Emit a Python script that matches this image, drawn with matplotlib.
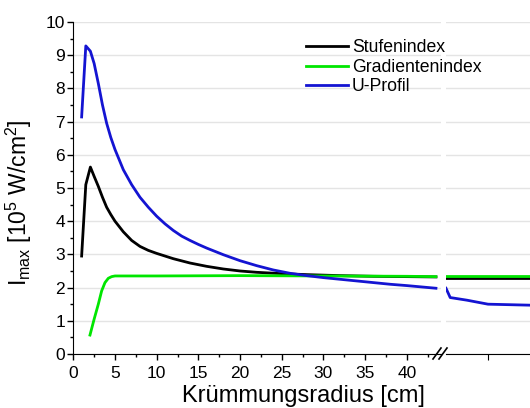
import numpy as np
import matplotlib
matplotlib.use("Agg")
import matplotlib.pyplot as plt
from matplotlib.ticker import MultipleLocator, FixedLocator

plt.rcParams['font.family'] = ['Liberation Sans', 'DejaVu Sans']
plt.rcParams['mathtext.default'] = 'regular'

# Daten
x_stufe = [1, 1.5, 2.05, 2.5, 3, 3.5, 4, 4.5, 5, 6, 7, 8, 9, 10, 12, 14, 16, 18, 20,
           22, 25, 28, 32, 36, 40, 43.5]
y_stufe = [2.95, 5.1, 5.63, 5.35, 5.05, 4.72, 4.42, 4.2, 4.0, 3.68, 3.42, 3.24, 3.12,
           3.03, 2.87, 2.74, 2.64, 2.56, 2.5, 2.46, 2.42, 2.39, 2.36, 2.34, 2.33, 2.32]
x_grad = [2, 2.5, 3, 3.4, 3.8, 4.2, 4.6, 5, 10, 20, 30, 40, 43.5]
y_grad = [0.57, 1.05, 1.5, 1.9, 2.15, 2.28, 2.33, 2.35, 2.35, 2.36, 2.35, 2.34, 2.33]
x_u = [1, 1.5, 2.05, 2.5, 3, 3.5, 4, 4.5, 5, 6, 7, 8, 9, 10, 11, 12, 13, 14, 15, 16,
       18, 20, 22, 24, 26, 28, 30, 32, 34, 36, 38, 40, 43.5]
y_u = [7.14, 9.28, 9.12, 8.75, 8.15, 7.5, 6.95, 6.52, 6.16, 5.55, 5.1, 4.72, 4.42,
       4.15, 3.92, 3.72, 3.55, 3.42, 3.3, 3.19, 2.99, 2.81, 2.66, 2.53, 2.43, 2.36,
       2.3, 2.25, 2.2, 2.15, 2.1, 2.06, 1.98]

# Teil nach dem Achsenbruch
x_r = [60, 100]
y_stufe_r = [2.30, 2.30]
y_grad_r = [2.35, 2.35]
x_u_r = [60, 62, 70, 80, 100]
y_u_r = [1.98, 1.70, 1.62, 1.50, 1.47]

c_black = 'black'
c_green = '#00e600'
c_blue = '#1414d2'
lw = 2.0

fig = plt.figure(figsize=(5.3, 4.08), dpi=100)
ax = fig.add_axes([0.1383, 0.1324, 0.6937, 0.8137])
ax2 = fig.add_axes([0.8415, 0.1324, 0.1585, 0.8137], sharey=ax)

ax.plot(x_stufe, y_stufe, color=c_black, lw=lw, label='Stufenindex')
ax.plot(x_grad, y_grad, color=c_green, lw=lw, label='Gradientenindex')
ax.plot(x_u, y_u, color=c_blue, lw=lw, label='U-Profil')

ax2.plot(x_r, y_stufe_r, color=c_black, lw=lw)
ax2.plot(x_r, y_grad_r, color=c_green, lw=lw)
ax2.plot(x_u_r, y_u_r, color=c_blue, lw=lw)

ax.set_xlim(0, 44.1)
ax.set_ylim(0, 10)
ax2.set_xlim(60, 100)

for a in (ax, ax2):
    for s in ('top', 'right'):
        a.spines[s].set_visible(False)
    a.grid(axis='y', color='#e4e4e4', lw=1)
    a.set_axisbelow(True)

ax.yaxis.set_major_locator(MultipleLocator(1))
ax.yaxis.set_minor_locator(MultipleLocator(0.5))
ax.xaxis.set_major_locator(FixedLocator([0, 5, 10, 15, 20, 25, 30, 35, 40]))
ax.xaxis.set_minor_locator(FixedLocator([2.5, 7.5, 12.5, 17.5, 22.5, 27.5, 32.5, 37.5, 42.5]))
ax.tick_params(which='major', length=4, width=1, labelsize=12.5)
ax.tick_params(axis='x', which='major', pad=5)
ax.tick_params(axis='y', which='major', pad=2)
ax.tick_params(which='minor', length=2, width=1)

ax2.spines['left'].set_visible(False)
ax2.tick_params(axis='y', left=False, labelleft=False, which='both')
ax2.xaxis.set_major_locator(FixedLocator([80]))
ax2.tick_params(axis='x', length=4, labelbottom=False)

# Achsenbeschriftung ueber beide Teile
fig.text(303 / 530, 1 - 402 / 408, 'Krümmungsradius [cm]', fontsize=17,
         ha='center', va='baseline')
fig.text(19 / 530, 1 - 203 / 408, 'I$_{max}$ [10$^5$ W/cm$^2$]', fontsize=16.5,
         rotation=90, ha='center', va='center')

handles, labels = ax.get_legend_handles_labels()
fig.legend(handles, labels, loc='upper left', bbox_to_anchor=(299 / 530, 1 - 32 / 408),
           frameon=False, fontsize=12.7, handlelength=2.4, handletextpad=0.2,
           labelspacing=0.15, borderaxespad=0)

# Achsenbruch //
for dx in (0, 6):
    fig.add_artist(plt.Line2D([(433 + dx) / 530, (441 + dx) / 530],
                              [1 - 359 / 408, 1 - 348 / 408],
                              color='black', lw=1.2))

fig.savefig('out.png', dpi=100)
